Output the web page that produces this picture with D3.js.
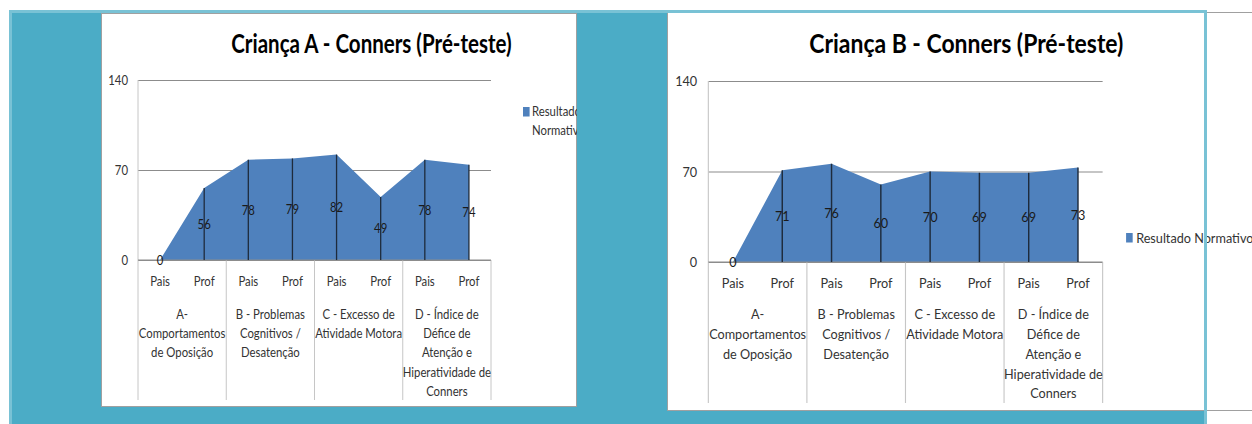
<!DOCTYPE html>
<html><head><meta charset="utf-8">
<script src="https://cdn.jsdelivr.net/npm/d3@7"></script>
<style>html,body{margin:0;padding:0;background:#fff;overflow:hidden}svg{display:block}</style>
</head><body><svg id="c" width="1252" height="424"></svg>
<script>
// ---------- data ----------
const categories = ["A", "B", "C", "D"];
const categoryLines = [
  ["A-", "Comportamentos", "de Oposição"],
  ["B - Problemas", "Cognitivos /", "Desatenção"],
  ["C - Excesso de", "Atividade Motora"],
  ["D - Índice de", "Défice de", "Atenção e", "Hiperatividade de", "Conners"]
];
const informants = ["Pais", "Prof"];
const valuesA = [0, 56, 78, 79, 82, 49, 78, 74];
const valuesB = [0, 71, 76, 60, 70, 69, 69, 73];
const yTicks = [0, 70, 140];
const titleA = "Criança A - Conners (Pré-teste)";
const titleB = "Criança B - Conners (Pré-teste)";
const seriesName = "Resultado Normativo";

// ---------- styles ----------
const FONT = "Lato, 'Liberation Sans', sans-serif";
const C_TEAL = "#4BACC6", C_FRAME = "#79C2D5", C_AREA = "#4F81BD", C_DROP = "#1E2B3C";
const C_GRID = "#8C8C8C", C_DIV = "#C6C6C6", C_TEXT = "#262626";
const FS = 14, FC = 0.81;

const svg = d3.select("#c");

// background teal block
svg.append("rect").attr("x", 12).attr("y", 13).attr("width", 1192).attr("height", 411).attr("fill", C_TEAL);

function label(g, x, y, str, o) {
  o = o || {};
  return g.append("text")
    .attr("transform", `translate(${x},${y}) scale(${o.c || FC},1)`)
    .attr("text-anchor", o.anchor || "middle")
    .attr("dy", o.dy == null ? "0.35em" : o.dy)
    .attr("font-family", FONT)
    .attr("font-size", o.size || FS)
    .attr("font-weight", o.weight || "normal")
    .attr("fill", o.fill || C_TEXT)
    .text(str);
}

function drawChart(cfg, values, title, id) {
  // panel
  const clip = svg.append("clipPath").attr("id", "clip" + id);
  clip.append("rect").attr("x", cfg.panel.x).attr("y", cfg.panel.y).attr("width", cfg.panel.w).attr("height", cfg.panel.h);
  svg.append("rect").attr("x", cfg.panel.x + 0.5).attr("y", cfg.panel.y + 0.5)
    .attr("width", cfg.panel.w - 1).attr("height", cfg.panel.h - 1)
    .attr("fill", "#fff").attr("stroke", "#A0A0A0").attr("stroke-width", 1);

  const root = svg.append("g").attr("clip-path", `url(#clip${id})`);
  const g = root.append("g").attr("transform", `translate(${cfg.x},0) scale(${cfg.sx},1)`);

  const plotL = 37, plotR = 390;
  const xCat = d3.scaleBand().domain(categories).range([plotL, plotR]);
  const xSub = d3.scaleBand().domain(informants).range([0, xCat.bandwidth()]);
  const y = d3.scaleLinear().domain([0, 140]).range([cfg.base, cfg.top]);

  const pts = [];
  categories.forEach((c, i) => informants.forEach((s, j) => {
    pts.push({ x: xCat(c) + xSub(s) + xSub.bandwidth() / 2, v: values[i * 2 + j], sub: s });
  }));

  // gridlines + y labels via axis
  const yAxis = d3.axisLeft(y).tickValues(yTicks).tickSize(-(plotR - plotL)).tickPadding(0);
  const ax = g.append("g").attr("transform", `translate(${plotL},0)`).call(yAxis);
  ax.select(".domain").remove();
  ax.selectAll(".tick line").attr("stroke", C_GRID).attr("stroke-width", 1);
  ax.selectAll(".tick text")
    .attr("x", null).attr("dy", "0.35em")
    .attr("transform", `translate(-10,0) scale(${FC},1)`)
    .attr("font-family", FONT).attr("font-size", FS).attr("fill", "#333").attr("text-anchor", "end");

  // left axis line
  g.append("line").attr("x1", plotL).attr("x2", plotL).attr("y1", cfg.top).attr("y2", cfg.divBottom)
    .attr("stroke", C_DIV).attr("stroke-width", 1);
  // category dividers
  const bounds = categories.map(c => xCat(c)).concat([plotR]);
  g.selectAll(".div").data(bounds.slice(1)).join("line")
    .attr("x1", d => d).attr("x2", d => d).attr("y1", cfg.base).attr("y2", cfg.divBottom)
    .attr("stroke", C_DIV).attr("stroke-width", 1);

  // area
  const area = d3.area().x(d => d.x).y0(y(0)).y1(d => y(d.v));
  g.append("path").datum(pts).attr("d", area).attr("fill", C_AREA);
  // baseline over area edge
  g.append("line").attr("x1", plotL).attr("x2", plotR).attr("y1", y(0)).attr("y2", y(0))
    .attr("stroke", C_GRID).attr("stroke-width", 1);
  // drop lines
  g.selectAll(".drop").data(pts.filter(d => d.v > 0)).join("line")
    .attr("x1", d => d.x).attr("x2", d => d.x).attr("y1", d => y(d.v)).attr("y2", y(0))
    .attr("stroke", C_DROP).attr("stroke-width", 1.3);

  // data labels
  pts.forEach(d => label(g, d.x, y(d.v / 2), String(d.v), { fill: "#1a1a1a" }));

  // sub labels
  pts.forEach(d => label(g, d.x, cfg.subY, d.sub, { fill: "#333" }));
  // category labels
  categories.forEach((c, i) => {
    categoryLines[i].forEach((ln, k) => {
      label(g, xCat(c) + xCat.bandwidth() / 2, cfg.catY + k * cfg.catDy, ln, { fill: "#333" });
    });
  });

  // title
  label(g, cfg.titleX, 53, title, { size: 26, weight: "bold", c: 0.79, dy: 0, fill: "#000" });

  // legend
  const L = cfg.legend;
  g.append("rect").attr("x", L.sqX).attr("y", L.sqY).attr("width", L.sqW).attr("height", L.sqH).attr("fill", C_AREA);
  L.lines.forEach((ln, k) => label(g, L.textX, L.y0 + k * L.dy, ln, { anchor: "start", fill: "#333" }));
}

const words = seriesName.split(" ");
drawChart({
  x: 101, sx: 1, top: 80, base: 260, subY: 281.5, catY: 314, catDy: 19.2, divBottom: 400, titleX: 270.5,
  panel: { x: 101, y: 13, w: 476, h: 394 },
  legend: { sqX: 422, sqY: 107, sqW: 6.6, sqH: 9.5, textX: 431, lines: words, y0: 111.5, dy: 18.8 }
}, valuesA, titleA, "A");

drawChart({
  x: 667, sx: 1.117, top: 81, base: 262, subY: 283.5, catY: 314.5, catDy: 19.7, divBottom: 403, titleX: 268,
  panel: { x: 667, y: 12, w: 600, h: 399 },
  legend: { sqX: 411, sqY: 233, sqW: 5.9, sqH: 9.5, textX: 420, lines: [seriesName], y0: 237.8, dy: 0 }
}, valuesB, titleB, "B");

// frame (drawn on top)
svg.append("rect").attr("x", 9).attr("y", 10).attr("width", 1198).attr("height", 3).attr("fill", C_FRAME);
svg.append("rect").attr("x", 9).attr("y", 10).attr("width", 3).attr("height", 414).attr("fill", C_FRAME);
svg.append("rect").attr("x", 1204).attr("y", 10).attr("width", 3).attr("height", 414).attr("fill", C_FRAME);
</script></body></html>
